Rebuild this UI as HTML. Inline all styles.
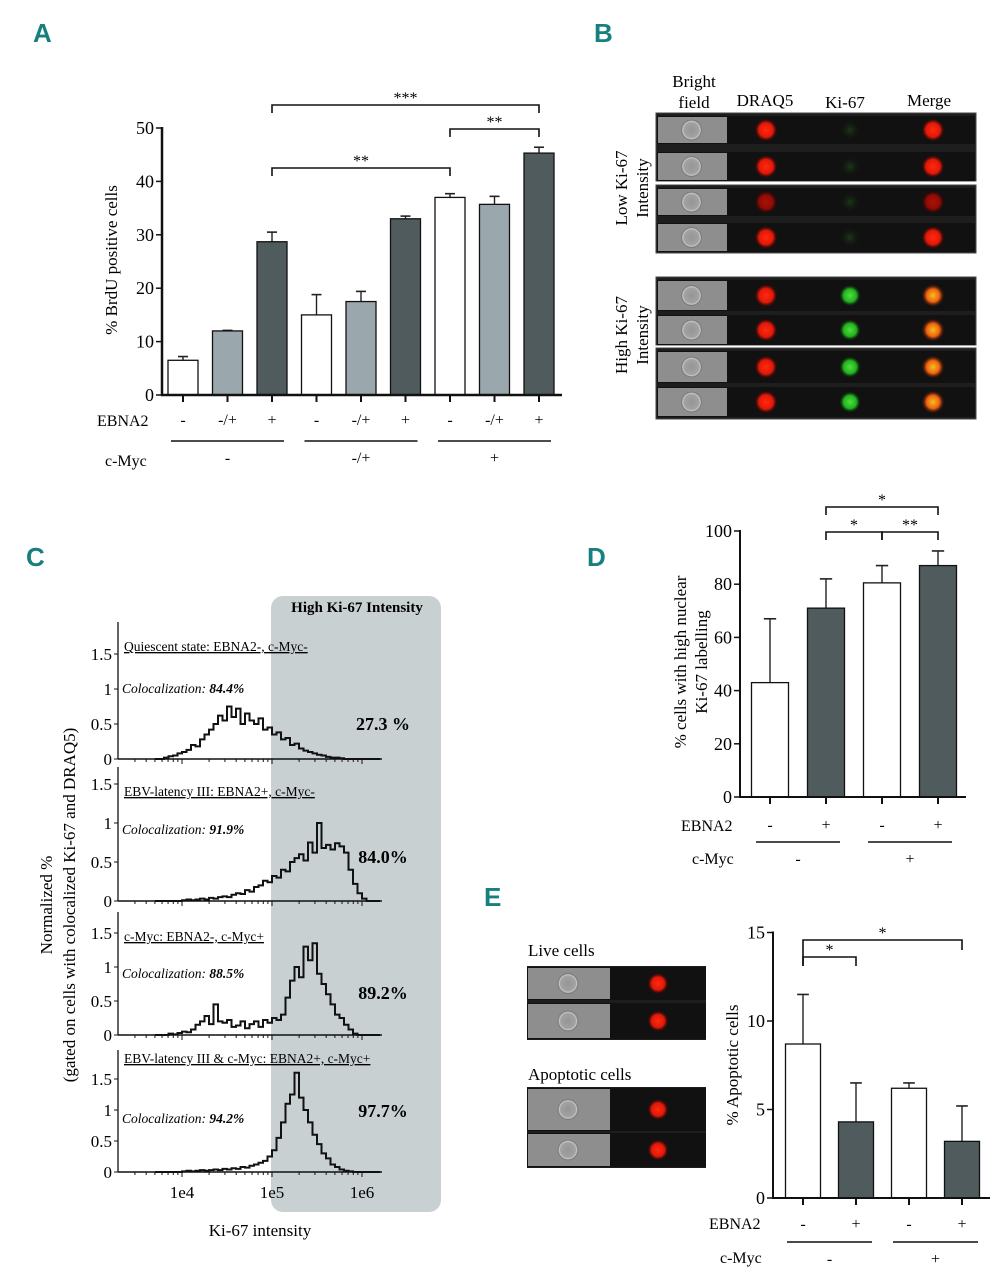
<!DOCTYPE html>
<html><head><meta charset="utf-8">
<style>
html,body{margin:0;padding:0;background:#fff;}
svg{display:block;font-family:"Liberation Serif",serif;}
.lt{font-family:"Liberation Sans",sans-serif;font-weight:bold;fill:#16807f;font-size:26px;}
</style></head>
<body>
<svg id="fig" width="1005" height="1280" viewBox="0 0 1005 1280" xmlns="http://www.w3.org/2000/svg">
<defs>
<radialGradient id="gRed"><stop offset="0" stop-color="#ff2a10"/><stop offset="0.6" stop-color="#e01808"/><stop offset="1" stop-color="#200" stop-opacity="0"/></radialGradient>
<radialGradient id="gRedDim"><stop offset="0" stop-color="#b01008"/><stop offset="0.6" stop-color="#8a0c06"/><stop offset="1" stop-color="#200" stop-opacity="0"/></radialGradient>
<radialGradient id="gGreen"><stop offset="0" stop-color="#50e040"/><stop offset="0.6" stop-color="#22b020"/><stop offset="1" stop-color="#020" stop-opacity="0"/></radialGradient>
<radialGradient id="gGreenDim"><stop offset="0" stop-color="#1c3a18"/><stop offset="1" stop-color="#111" stop-opacity="0"/></radialGradient>
<radialGradient id="gOrange"><stop offset="0" stop-color="#f0c020"/><stop offset="0.55" stop-color="#f06010"/><stop offset="1" stop-color="#200" stop-opacity="0"/></radialGradient>
<radialGradient id="gCell"><stop offset="0" stop-color="#959595"/><stop offset="0.75" stop-color="#a2a2a2"/><stop offset="0.88" stop-color="#c8c8c8"/><stop offset="1" stop-color="#8e8e8e" stop-opacity="0"/></radialGradient>
</defs>

<text class="lt" x="33" y="42">A</text>
<text class="lt" x="594" y="42">B</text>
<text class="lt" x="26" y="566">C</text>
<text class="lt" x="587" y="566">D</text>
<text class="lt" x="484" y="906">E</text>

<text transform="translate(117,260) rotate(-90)" text-anchor="middle" font-size="17">% BrdU positive cells</text>
<text x="97" y="426" font-size="16">EBNA2</text>
<text x="105" y="466" font-size="16">c-Myc</text>

<g font-size="17" text-anchor="middle">
<text x="694" y="87">Bright</text><text x="694" y="108">field</text>
<text x="765" y="106">DRAQ5</text><text x="845" y="108">Ki-67</text><text x="929" y="106">Merge</text>
</g>
<text transform="translate(627,188) rotate(-90)" text-anchor="middle" font-size="17">Low Ki-67</text>
<text transform="translate(648,188) rotate(-90)" text-anchor="middle" font-size="17">Intensity</text>
<text transform="translate(627,335) rotate(-90)" text-anchor="middle" font-size="17">High Ki-67</text>
<text transform="translate(648,335) rotate(-90)" text-anchor="middle" font-size="17">Intensity</text>

<rect x="271" y="596" width="170" height="616" rx="12" fill="#c9d0d2"/>
<text x="357" y="612" text-anchor="middle" font-size="15" font-weight="bold">High Ki-67 Intensity</text>
<text transform="translate(52,905) rotate(-90)" text-anchor="middle" font-size="17">Normalized %</text>
<text transform="translate(75,905) rotate(-90)" text-anchor="middle" font-size="17">(gated on cells with colocalized Ki-67 and DRAQ5)</text>
<text x="260" y="1236" text-anchor="middle" font-size="17">Ki-67 intensity</text>

<text transform="translate(686,662) rotate(-90)" text-anchor="middle" font-size="17">% cells with high nuclear</text>
<text transform="translate(707,662) rotate(-90)" text-anchor="middle" font-size="17">Ki-67 labelling</text>
<text x="681" y="831" font-size="16">EBNA2</text>
<text x="692" y="864" font-size="16">c-Myc</text>

<text x="528" y="956" font-size="17">Live cells</text>
<text x="528" y="1080" font-size="17">Apoptotic cells</text>
<text transform="translate(738,1065) rotate(-90)" text-anchor="middle" font-size="17">% Apoptotic cells</text>
<text x="709" y="1229" font-size="16">EBNA2</text>
<text x="720" y="1263" font-size="16">c-Myc</text>
</svg>

<script>
// ===== Panel A data =====
const aCategories = ["-","-/+","+","-","-/+","+","-","-/+","+"];
const aValues = [6.5, 12.0, 28.7, 15.0, 17.5, 33.0, 37.0, 35.7, 45.3];
const aErrors = [0.7, 0.1, 1.8, 3.8, 1.9, 0.5, 0.7, 1.5, 1.1];
const aTicks = [0, 10, 20, 30, 40, 50];
const aGroups = ["-", "-/+", "+"];
// ===== Panel D data =====
const dCategories = ["-","+","-","+"];
const dValues = [43, 71, 80.5, 87];
const dErrors = [24, 11, 6.5, 5.5];
const dTicks = [0, 20, 40, 60, 80, 100];
const dGroups = ["-", "+"];
// ===== Panel E data =====
const eCategories = ["-","+","-","+"];
const eValues = [8.7, 4.3, 6.2, 3.2];
const eErrors = [2.8, 2.2, 0.3, 2.0];
const eTicks = [0, 5, 10, 15];
const eGroups = ["-", "+"];
// ===== Panel C histogram data (log10 bins 3.70..6.15 step 0.05) =====
const cBinStart = 3.70;
const cBinStep = 0.05;
const cQuiescent = [0,0,0.02,0.04,0.05,0.08,0.1,0.13,0.2,0.18,0.28,0.35,0.42,0.5,0.62,0.55,0.75,0.6,0.72,0.5,0.65,0.55,0.5,0.58,0.42,0.45,0.35,0.38,0.28,0.3,0.2,0.22,0.15,0.12,0.1,0.08,0.06,0.05,0.03,0.02,0.02,0.01,0,0,0,0,0,0,0,0];
const cLatency = [0,0,0,0,0,0,0.01,0.02,0.01,0.02,0.03,0.02,0.04,0.03,0.05,0.06,0.05,0.08,0.1,0.09,0.14,0.12,0.18,0.2,0.26,0.24,0.32,0.3,0.4,0.38,0.5,0.55,0.6,0.52,0.75,0.62,1.0,0.68,0.72,0.66,0.74,0.7,0.62,0.4,0.22,0.1,0.03,0,0,0];
const cMyc = [0,0,0,0.02,0.01,0.03,0.05,0.04,0.08,0.15,0.2,0.28,0.16,0.45,0.2,0.18,0.22,0.12,0.14,0.2,0.1,0.16,0.2,0.12,0.22,0.18,0.25,0.22,0.3,0.55,0.8,1.0,0.85,1.3,1.1,1.35,0.9,0.75,0.6,0.45,0.3,0.25,0.15,0.08,0.02,0,0,0,0,0];
const cBoth = [0,0,0,0,0,0,0.01,0.02,0.01,0.02,0.03,0.02,0.03,0.04,0.03,0.05,0.04,0.06,0.05,0.08,0.07,0.1,0.12,0.15,0.18,0.25,0.35,0.55,0.8,1.1,1.25,1.6,1.2,1.0,0.8,0.6,0.45,0.3,0.22,0.12,0.08,0.04,0.02,0.01,0,0,0,0,0,0];
const cSeries = [cQuiescent, cLatency, cMyc, cBoth];
const cTitles = ["Quiescent state: EBNA2-, c-Myc-","EBV-latency III: EBNA2+, c-Myc-","c-Myc: EBNA2-, c-Myc+","EBV-latency III & c-Myc: EBNA2+, c-Myc+"];
const cColoc = ["84.4%","91.9%","88.5%","94.2%"];
const cHigh = ["27.3 %","84.0%","89.2%","97.7%"];
const cYTicks = [0, 0.5, 1, 1.5];
const cXTicks = [4, 5, 6];
const cXTickLabels = ["1e4","1e5","1e6"];

const NS = "http://www.w3.org/2000/svg";
const svg = document.getElementById('fig');
function mk(tag, attrs, parent){
  const e = document.createElementNS(NS, tag);
  for (const k in attrs) e.setAttribute(k, attrs[k]);
  (parent||svg).appendChild(e);
  return e;
}
function txt(x,y,s,size,anchor,parent){
  const t = mk('text',{x:x,y:y,'font-size':size,'text-anchor':anchor||'middle'},parent);
  t.textContent = s;
  return t;
}

function barChart(o){
  const yS = v => o.y0 - v*o.ppu;
  const xS = i => o.c0 + i*o.step;
  const g = mk('g',{});
  
  
  o.values.forEach((v,i)=>{
    const fill = o.fills[i % o.fills.length];
    const top = yS(v+o.errors[i]);
    const el = mk('line',{x1:xS(i),x2:xS(i),y1:yS(v),y2:top,stroke:'#222','stroke-width':1.4},g);
    
    
    const cap = mk('line',{x1:xS(i)-o.w/6,x2:xS(i)+o.w/6,y1:top,y2:top,stroke:'#222','stroke-width':1.6},g);
    
    
    const r = mk('rect',{x:xS(i)-o.w/2,y:yS(v),width:o.w,height:o.y0-yS(v),fill:fill,stroke:'#111','stroke-width':1.3},g);
    
    
    const tk = mk('line',{x1:xS(i),x2:xS(i),y1:o.y0,y2:o.y0+7,stroke:'#111','stroke-width':2},g);
    
    
    const lb = txt(xS(i), o.catY, o.cats[i], 16, 'middle', g);
    
    
  });
  const ya = mk('line',{x1:o.x0,x2:o.x0,y1:yS(o.ticks[o.ticks.length-1])-1,y2:o.y0+1,stroke:'#111','stroke-width':o.aw},g);
  
  
  const xa = mk('line',{x1:o.x0-1,x2:o.xEnd,y1:o.y0,y2:o.y0,stroke:'#111','stroke-width':o.aw},g);
  
  
  o.ticks.forEach(t=>{
    const l = mk('line',{x1:o.x0-6,x2:o.x0,y1:yS(t),y2:yS(t),stroke:'#111','stroke-width':1.5},g);
    
    
    const tl = txt(o.x0-8, yS(t)+6, String(t), 18, 'end', g);
    
    
  });
  const per = o.values.length / o.groups.length;
  o.groups.forEach((gname,gi)=>{
    const a = xS(gi*per) - o.glPad, b = xS(gi*per+per-1) + o.glPad;
    const gl = mk('line',{x1:a,x2:b,y1:o.glY,y2:o.glY,stroke:'#111','stroke-width':1.5},g);
    
    
    const gt = txt((a+b)/2, o.glY+22, gname, 16, 'middle', g);
    
    
  });
  o.sig.forEach(s=>{
    const xa1 = xS(s[0]), xb1 = xS(s[1]);
    const p = mk('path',{d:`M${xa1},${s[3]} V${s[2]} H${xb1} V${s[4]}`,fill:'none',stroke:'#111','stroke-width':1.6},g);
    
    
    const st = txt((xa1+xb1)/2, s[2]-2, s[5], 16, 'middle', g);
    
    
  });
}

const cW='#ffffff', cL='#9aa8ae', cD='#4f5b5c';
barChart({name:'panel-a-chart',values:aValues,errors:aErrors,cats:aCategories,ticks:aTicks,groups:aGroups,
  fills:[cW,cL,cD],x0:162,y0:395,ppu:5.34,c0:183,step:44.5,w:30,aw:2.5,xEnd:562,catY:425,glY:441,glPad:12,
  sig:[[2,8,105,113,113,'***'],[6,8,129,137,137,'**'],[2,6,168,176,176,'**']]});
barChart({name:'panel-d-chart',values:dValues,errors:dErrors,cats:dCategories,ticks:dTicks,groups:dGroups,
  fills:[cW,cD,cW,cD],x0:740,y0:797,ppu:2.66,c0:770,step:56,w:37,aw:2,xEnd:966,catY:830,glY:842,glPad:14,
  sig:[[1,3,507,515,515,'*'],[1,2,532,540,540,'*'],[2,3,532,540,540,'**']]});
barChart({name:'panel-e-chart',values:eValues,errors:eErrors,cats:eCategories,ticks:eTicks,groups:eGroups,
  fills:[cW,cD,cW,cD],x0:773,y0:1198,ppu:17.7,c0:803,step:53,w:35,aw:2,xEnd:990,catY:1229,glY:1242,glPad:16,
  sig:[[0,1,957,966,966,'*'],[0,3,940,966,950,'*']]});

const cPanels = [{y0:759,ppu:70,top:622},{y0:901,ppu:78,top:767},{y0:1035,ppu:68,top:912},{y0:1172,ppu:62,top:1050}];
const lx = l => 182 + (l-4)*90;
cSeries.forEach((ser,pi)=>{
  const P = cPanels[pi];
  const g = mk('g',{});
  
  
  const ya = mk('line',{x1:118,x2:118,y1:P.top,y2:P.y0,stroke:'#111','stroke-width':1.3},g);
  
  
  const xa = mk('line',{x1:118,x2:382,y1:P.y0,y2:P.y0,stroke:'#111','stroke-width':1.5},g);
  
  
  cYTicks.forEach(t=>{
    const y = P.y0 - t*P.ppu;
    const l = mk('line',{x1:114,x2:118,y1:y,y2:y,stroke:'#111','stroke-width':1},g);
    
    
    const tl = txt(112, y+6, String(t), 17, 'end', g);
    
    
  });
  for (let d=3; d<=6; d++){
    for (let m=1; m<10; m++){
      const l = d + Math.log10(m);
      const x = lx(l);
      if (x<120 || x>380) continue;
      const mt = mk('line',{x1:x,x2:x,y1:P.y0,y2:P.y0+(m===1?5:3),stroke:'#111','stroke-width':1},g);
      
      
    }
  }
  let d = '';
  ser.forEach((v,i)=>{
    const x1 = lx(cBinStart + i*cBinStep), x2 = lx(cBinStart + (i+1)*cBinStep);
    const y = P.y0 - v*P.ppu;
    d += (i===0?`M${x1},${P.y0} V${y}`:` V${y}`) + ` H${x2}`;
  });
  d += ` V${P.y0}`;
  const h = mk('path',{d:d,fill:'none',stroke:'#111','stroke-width':2},g);
  
  
  const tt = txt(124, P.top+ (pi===3?13:29), cTitles[pi], 13.5, 'start', g);
  tt.setAttribute('text-decoration','underline');
  
  
  const co = mk('text',{x:122,y:P.y0-(pi===0?66:pi===1?67:pi===2?57:49),'font-size':13.5,'font-style':'italic'},g);
  co.innerHTML = 'Colocalization: <tspan font-weight="bold">'+cColoc[pi]+'</tspan>';
  
  
  const hp = txt(383, P.y0-(pi===0?29:pi===1?38:pi===2?36:55), cHigh[pi], 18, 'middle', g);
  hp.setAttribute('font-weight','bold');
  
  
});
cXTicks.forEach((t,i)=>{
  const l = txt(lx(t), 1198, cXTickLabels[i], 17, 'middle');
  
  
});

function cellRow(x,y,w,h,bfW,spots){
  const g = mk('g',{});
  
  
  const bg = mk('rect',{x:x,y:y,width:w,height:h,fill:'#111'},g);
  
  
  const bf = mk('rect',{x:x+1,y:y+1,width:bfW,height:h-2,fill:'#8e8e8e'},g);
  
  
  const cell = mk('circle',{cx:x+bfW/2,cy:y+h/2,r:Math.min(10,h/2-4),fill:'url(#gCell)',stroke:'#777','stroke-width':0.7},g);
  
  
  spots.forEach(s=>{
    const c = mk('circle',{cx:s[0],cy:y+h/2,r:s[2],fill:'url(#'+s[1]+')'},g);
    
    
  });
}
const bRows = [
 [116,28,'gRed','gGreenDim','gRed'],[152,29,'gRed','gGreenDim','gRed'],
 [188,28,'gRedDim','gGreenDim','gRedDim'],[223,29,'gRed','gGreenDim','gRed'],
 [280,31,'gRed','gGreen','gOrange'],[315,30,'gRed','gGreen','gOrange'],
 [351,32,'gRed','gGreen','gOrange'],[387,30,'gRed','gGreen','gOrange']];
[[113,181],[185,253],[277,345],[348,419]].forEach(b=>{
  const r = mk('rect',{x:656,y:b[0],width:320,height:b[1]-b[0],fill:'#1e1e1e',stroke:'#444','stroke-width':1});
  
  
});
bRows.forEach(r=>{
  cellRow(657,r[0],318,r[1],69,[[766,r[2],12],[850,r[3],11],[933,r[4],12]]);
});
[[966,1040],[1087,1168]].forEach(b=>{
  const r = mk('rect',{x:527,y:b[0],width:179,height:b[1]-b[0],fill:'#1e1e1e'});
  
  
});
[[967,33],[1003,36],[1088,43],[1133,34]].forEach(r=>{
  cellRow(527,r[0],179,r[1],82,[[658,'gRed',11]]);
});
</script>
</body></html>
